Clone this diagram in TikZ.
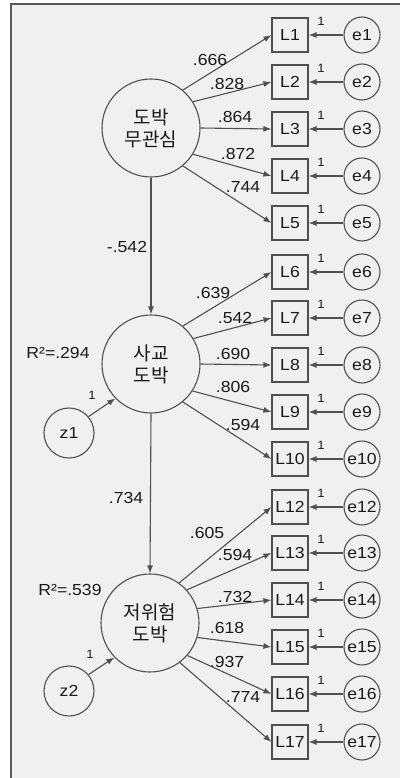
\documentclass[tikz,border=0pt]{standalone}
\usepackage{fontspec}
\setmainfont[FakeStretch=1.1]{Liberation Sans}
\newfontfamily\kr{Noto Sans CJK KR}
\usetikzlibrary{arrows.meta}
\definecolor{linec}{HTML}{505050}
\definecolor{bgc}{HTML}{F0F0F0}
\definecolor{framec}{HTML}{5A5A5A}
\definecolor{txtc}{HTML}{1A1A1A}
\begin{document}
\begin{tikzpicture}[x=1pt,y=-1pt,
  conn/.style={draw=linec, line width=1.1pt, -{Latex[length=8pt,width=6pt]}},
  latent/.style={circle, draw=linec, line width=1.1pt, minimum size=98pt, inner sep=0pt, align=center, text=txtc, font=\kr\fontsize{19}{22}\selectfont},
  obs/.style={rectangle, draw=linec, line width=1.1pt, minimum width=36pt, minimum height=34pt, inner sep=0pt, text=txtc, font=\fontsize{16}{18}\selectfont},
  err/.style={circle, draw=linec, line width=1.1pt, minimum size=36pt, inner sep=0pt, text=txtc, font=\fontsize{16}{18}\selectfont},
  dist/.style={circle, draw=linec, line width=1.1pt, minimum size=50pt, inner sep=0pt, text=txtc, font=\fontsize{16}{18}\selectfont},
  coef/.style={inner sep=0pt, text=txtc, font=\fontsize{16}{18}\selectfont},
  one/.style={inner sep=0pt, text=txtc, font=\fontsize{12}{13}\selectfont},
]
\useasboundingbox (0,0) rectangle (399,778);
\fill[white] (0,0) rectangle (399,778);
\fill[bgc] (11,4) rectangle (400,779);
\draw[framec, line width=1.3pt] (11,779) -- (11,4) -- (400,4);

% latent variables
\node[latent] (F1) at (151,128) {도박\\무관심};
\node[latent] (F2) at (151,364) {사교\\도박};
\node[latent] (F3) at (150,623) {저위험\\도박};

% disturbances
\node[dist] (z1) at (69,433) {z1};
\node[dist] (z2) at (69,691) {z2};

% indicators and errors
\foreach \n/\y in {1/35,2/82,3/129,4/176,5/223,6/272,7/318,8/365,9/412,10/459,12/507,13/553,14/600,15/647,16/694,17/742}{
  \node[obs] (L\n) at (290,\y) {L\n};
  \node[err] (e\n) at (362,\y) {e\n};
  \draw[conn] (e\n.west) -- (L\n.east);
  \node[one] (o\n) at (321,\y-14) {1};
}

% loadings
\foreach \a/\n in {50/1,32/2,0/3,328/4,310/5}{\draw[conn] (F1.\a) -- (L\n.west);}
\foreach \a/\n in {50/6,31/7,0/8,327/9,310/10}{\draw[conn] (F2.\a) -- (L\n.west);}
\foreach \a/\n in {54/12,42/13,17/14,343/15,319/16,307/17}{\draw[conn] (F3.\a) -- (L\n.west);}

% structural paths
\draw[conn] (F1.south) -- (F2.north);
\draw[conn] (F2.south) -- (F3.north);
\draw[conn] (z1.40) -- (F2.224);
\draw[conn] (z2.40) -- (F3.224);

% coefficient labels
\node[coef] (c1) at (210,60) {.666};
\node[coef] (c2) at (227,84) {.828};
\node[coef] (c3) at (235,117) {.864};
\node[coef] (c4) at (238,154) {.872};
\node[coef] (c5) at (243,187) {.744};
\node[coef] (c6) at (213,293) {.639};
\node[coef] (c7) at (235,318) {.542};
\node[coef] (c8) at (233,354) {.690};
\node[coef] (c9) at (233,387) {.806};
\node[coef] (c10) at (243,425) {.594};
\node[coef] (c12) at (207,533) {.605};
\node[coef] (c13) at (235,555) {.594};
\node[coef] (c14) at (235,597) {.732};
\node[coef] (c15) at (227,628) {.618};
\node[coef] (c16) at (227,662) {.937};
\node[coef] (c17) at (243,697) {.774};
\node[coef] (b1) at (127,247) {-.542};
\node[coef] (b2) at (126,498) {.734};
\node[coef] (r1) at (58,353) {R²=.294};
\node[coef] (r2) at (70,590) {R²=.539};
\node[one] (oz1) at (92,395) {1};
\node[one] (oz2) at (90,654) {1};
\end{tikzpicture}
\end{document}
